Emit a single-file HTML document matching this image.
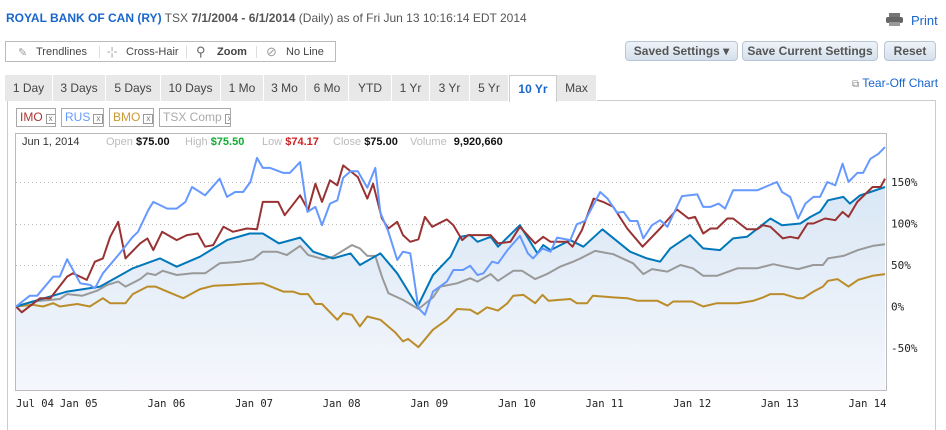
<!DOCTYPE html>
<html><head><meta charset="utf-8">
<style>
*{box-sizing:border-box;margin:0;padding:0}
body{width:946px;height:418px;background:#fff;font-family:"Liberation Sans",sans-serif;position:relative;overflow:hidden;color:#333}
.abs{position:absolute}
.title{left:6px;top:11px;font-size:12px;color:#555;white-space:nowrap}
.title b.co{color:#1a66cc}
.title b{color:#555}
.toolbar{left:5px;top:41px;width:331px;height:21px;border:1px solid #bbb;background:#fff;font-size:11px;color:#444}
.toolbar span{position:absolute;top:4px}
.tsep{position:absolute;top:4px;width:1px;height:12px;background:#ddd}
.btn{top:41px;height:20px;border:1px solid #b7c6d6;border-radius:4px;background:linear-gradient(#eef3f9,#d5e0ec);font-size:12px;font-weight:bold;color:#555;text-align:center;line-height:18px;white-space:nowrap}
.tabs{left:5px;top:75px;height:26px}
.tab{position:absolute;top:0;height:26px;background:#e8e8e8;border-right:1px solid #fff;font-size:12px;color:#444;text-align:center;line-height:26px}
.tab.act{background:#fff;border:1px solid #ccc;border-bottom:none;color:#1a66cc;font-weight:bold}
.panel{left:7px;top:100px;width:929px;height:330px;border-left:1px solid #ccc;border-right:1px solid #ccc;border-top:1px solid #ccc}
.chip{top:108px;height:19px;border:1px solid #aaa;font-size:12px;line-height:17px;padding-left:3px;white-space:nowrap;overflow:hidden}
.chip i{font-style:normal;display:inline-block;width:10px;height:10px;border:1px solid #999;font-size:8px;line-height:8px;text-align:center;color:#777;margin-left:3px;vertical-align:0px}
.info{top:136px;font-size:11px;white-space:nowrap}
.l{color:#bbb}
</style></head><body>
<div class="abs title"><b class="co">ROYAL BANK OF CAN (RY)</b> TSX <b>7/1/2004 - 6/1/2014</b> (Daily) as of Fri Jun 13 10:16:14 EDT 2014</div>
<div class="abs" style="left:886px;top:13px;width:17px;height:13px"><div style="position:absolute;left:3px;top:0;width:11px;height:4px;background:#777"></div><div style="position:absolute;left:0;top:4px;width:17px;height:6px;background:#666;border-radius:2px"></div><div style="position:absolute;left:3px;top:9px;width:11px;height:4px;background:#999"></div></div>
<div class="abs" style="left:911px;top:13px;font-size:13px;color:#1a66cc">Print</div>
<div class="abs toolbar">
<span style="left:12px;color:#999">✎</span><span style="left:30px">Trendlines</span>
<div class="tsep" style="left:93px"></div>
<span style="left:101px;color:#999">-¦-</span><span style="left:120px">Cross-Hair</span>
<div class="tsep" style="left:180px"></div>
<span style="left:190px;top:2px;font-size:13px;color:#666">⚲</span><span style="left:211px;font-weight:bold;color:#444">Zoom</span>
<div class="tsep" style="left:250px"></div>
<span style="left:260px;top:2px;font-size:13px;color:#999">⊘</span><span style="left:280px">No Line</span>
</div>
<div class="abs btn" style="left:625px;width:113px">Saved Settings ▾</div>
<div class="abs btn" style="left:742px;width:136px">Save Current Settings</div>
<div class="abs btn" style="left:884px;width:52px">Reset</div>
<div class="abs" style="left:852px;top:76px;font-size:12px;color:#1a66cc;white-space:nowrap"><span style="color:#888;font-size:10px">⧉</span> Tear-Off Chart</div>
<div class="abs panel"></div>
<div class="abs tabs">
<div class="tab" style="left:0;width:48px">1 Day</div>
<div class="tab" style="left:48px;width:53px">3 Days</div>
<div class="tab" style="left:101px;width:55px">5 Days</div>
<div class="tab" style="left:156px;width:60px">10 Days</div>
<div class="tab" style="left:216px;width:43px">1 Mo</div>
<div class="tab" style="left:259px;width:42px">3 Mo</div>
<div class="tab" style="left:301px;width:43px">6 Mo</div>
<div class="tab" style="left:344px;width:43px">YTD</div>
<div class="tab" style="left:387px;width:38px">1 Yr</div>
<div class="tab" style="left:425px;width:40px">3 Yr</div>
<div class="tab" style="left:465px;width:39px">5 Yr</div>
<div class="tab act" style="left:504px;width:48px;height:27px">10 Yr</div>
<div class="tab" style="left:552px;width:40px">Max</div>
</div>
<div class="abs chip" style="left:16px;width:40px;color:#a33">IMO<i>x</i></div>
<div class="abs chip" style="left:61px;width:43px;color:#69f">RUS<i>x</i></div>
<div class="abs chip" style="left:109px;width:45px;color:#c93">BMO<i>x</i></div>
<div class="abs chip" style="left:159px;width:72px;color:#aaa">TSX Comp<i>x</i></div>
<svg class="abs" style="left:0;top:0" width="946" height="418">
<defs><linearGradient id="g" x1="0" y1="0" x2="0" y2="1"><stop offset="0" stop-color="#d9e7f5"/><stop offset="1" stop-color="#f5f7fc"/></linearGradient></defs>
<g id="grid"></g><g id="area"></g><g id="lines"></g><g id="axes"></g>
<rect x="15.5" y="133.5" width="871" height="257" fill="none" stroke="#bbb"/>
</svg>
<div class="abs info" style="left:22px;color:#333">Jun 1, 2014</div>
<div class="abs info" style="left:106px"><span class="l">Open</span> <b style="color:#111">$75.00</b></div>
<div class="abs info" style="left:185px"><span class="l">High</span> <b style="color:#1a3">$75.50</b></div>
<div class="abs info" style="left:262px"><span class="l">Low</span> <b style="color:#c22">$74.17</b></div>
<div class="abs info" style="left:333px"><span class="l">Close</span> <b style="color:#111">$75.00</b></div>
<div class="abs info" style="left:410px"><span class="l">Volume</span> <b style="color:#111;margin-left:4px">9,920,660</b></div>
<script>
const yTicks=[150,100,50,0,-50];
const xTickLabels=["Jul 04","Jan 05","Jan 06","Jan 07","Jan 08","Jan 09","Jan 10","Jan 11","Jan 12","Jan 13","Jan 14"];
const xTickMonths=[0,6,18,30,42,54,66,78,90,102,114];
const ryMonths=[0,7,11.5,16,19.7,22,25.2,28.9,32,33.8,36,38.9,40.7,43.4,45.8,47.1,49.9,52.2,55,57.1,59.5,60.8,62.2,63.2,65,66,69,71.4,72.2,73.2,75.9,77.7,80.3,84.1,86.4,88.2,89.6,92.3,94.1,96.4,98.2,100.1,103.3,104.9,107.4,108.8,110.1,111.2,113.3,114.2,115.6,117,119];
const ryValues=[0,18,24,46,58,48,60,80,88,88,76,83,66,58,64,50,64,40,0,38,60,84,86,78,84,72,98,64,74,68,80,72,93,66,58,54,70,86,70,68,82,84,106,98,100,108,114,128,132,124,134,138,144];
const imoMonths=[0,0.8,3.3,4.7,7,7.8,9.7,10.8,11.9,12.9,14,15,17,18,18.8,20,22,23.4,24.9,25.9,27,28.4,29.7,31.6,33,33.8,35.9,36.8,38.9,40,41,41.9,43,44,44.8,46.8,48.1,48.9,50.1,51,52.2,53,54,55.1,56,57,59,59.9,61.1,61.9,65,66,67.7,69,71.1,72.2,73.2,75.5,76.2,77.5,79.1,80.4,81.8,83.7,85.8,88.2,90.5,92.1,93,94.1,95.1,96,97.4,98.2,100.1,101.5,102.3,103.3,105,106,107.1,108.4,109.2,110.8,112.2,113.2,114,115.2,117.3,118.4,119];
const imoValues=[0,-7,10,10,36,40,32,54,58,84,102,58,76,82,68,90,80,86,88,72,74,96,90,94,93,126,126,110,134,116,148,126,152,146,170,156,130,148,106,94,102,86,78,81,108,96,105,98,80,86,86,76,78,96,76,84,78,78,72,92,130,126,120,94,72,94,117,106,108,88,94,94,106,106,93,93,98,96,82,84,82,100,100,106,104,114,108,126,144,144,154];
const rusMonths=[0,1.9,2.9,5.1,6,7,8.8,10.1,10.8,11.9,14.2,16,16.7,18.1,18.8,20.7,22,23.2,24.1,25.9,27.9,28.9,30,31.1,32.1,33,33.8,34.8,36.6,37.5,38.9,39.9,41,41.9,43,44,44.8,45.8,46.8,48.1,49.2,49.9,51,52.2,53,54,55.1,56,57.1,59,59.9,61.2,62.2,63.2,64,65.2,66,67.3,69,70.1,70.8,72.1,73.2,74.1,75.9,76.8,77.9,80,81,82.3,83.2,84.1,85.1,85.9,87.1,88.2,89.2,91.2,93.3,94.1,95.1,96.2,97.1,98.2,99.6,101.5,104.2,104.9,106,107.1,108.1,109.2,110.1,111.1,112.2,113.2,114,115.2,116,117,118.1,119];
const rusValues=[0,13,13,36,36,57,28,26,22,40,64,84,90,116,126,118,118,126,144,134,154,132,138,138,150,179,167,167,161,161,174,114,120,98,124,128,155,163,163,143,167,113,90,56,66,64,-2,-10,18,30,44,44,49,38,40,54,52,68,85,64,58,70,66,83,80,99,103,138,130,113,114,103,103,82,98,104,96,133,135,120,120,124,118,140,140,140,150,138,132,106,124,132,132,150,146,172,150,161,161,178,184,192];
const tsxMonths=[0,2.3,6,7,9.1,11.1,12.5,14,15,17,18,19.1,20.1,22,24.2,25.9,27.9,30.7,32.5,33.8,35.7,37.1,38.9,40,42.1,43.4,46,47.1,48.1,49.2,50.1,51,53,55.1,57.1,58.1,60.4,62.2,63.2,65,66,68.1,69.3,71.1,72.7,74.5,76.3,77.3,79.3,81.8,84.5,85.9,87.1,89.2,91,92.7,94.1,96,98.8,101.5,103.7,105.3,107.1,109.2,110.5,111.2,113.3,115.3,117.3,119];
const tsxValues=[0,6,9,15,13,19,26,30,24,33,40,38,43,38,40,40,52,54,57,66,66,62,73,62,57,60,74,70,61,61,36,16,8,-3,11,24,28,34,30,39,31,43,43,33,39,48,54,58,67,63,52,39,45,42,50,46,37,37,46,46,51,48,45,50,50,58,61,68,73,75];
const bmoMonths=[0,2.3,3.7,5.1,6,8.4,10.1,11.9,12.9,15,16,18,19.1,20.7,22.9,25.2,27,29.7,31,33.8,36.6,37.9,38.9,40,41,41.9,44,44.8,46,47.1,48.1,49.9,51.9,53,53.7,55.1,57.1,59,60.4,62.2,63.2,64.5,66,67.3,68.1,69.5,71.1,72.1,72.9,75.9,76.8,78.2,79,81.8,83.7,85.1,87.8,89.2,90,92.6,94.1,96,98.8,101,102.3,103.3,105.1,107,107.8,109.2,110.5,111.2,112.5,114,115.3,117.3,119];
const bmoValues=[0,2,0,4,0,3,0,10,4,4,15,24,24,18,10,21,25,26,27,28,18,18,15,15,3,3,-16,-8,-10,-24,-12,-16,-31,-42,-39,-49,-28,-16,-3,-4,-9,-1,-5,4,13,14,4,14,7,9,4,4,13,11,10,7,7,1,6,6,0,4,4,7,11,15,15,10,10,18,24,31,33,24,32,37,39];

const X0=16,X1=885,MMAX=119,Y0=306.5,PPX=0.83,BOTTOM=390;
function xs(m){return X0+m*(X1-X0)/MMAX;}
function ys(p){return Y0-p*PPX;}
const NS="http://www.w3.org/2000/svg";
function mk(tag,parent){const e=document.createElementNS(NS,tag);document.getElementById(parent).appendChild(e);return e;}
function pts(ms,vs){const n=Math.min(ms.length,vs.length);let s=[];for(let i=0;i<n;i++)s.push(xs(ms[i]).toFixed(1)+","+ys(vs[i]).toFixed(1));return s;}
yTicks.forEach(t=>{
  const l=mk("line","grid");
  
  
  l.setAttribute("x1",16);l.setAttribute("x2",886);l.setAttribute("y1",Math.round(ys(t))+0.5);l.setAttribute("y2",Math.round(ys(t))+0.5);
  l.setAttribute("stroke","#bbb");l.setAttribute("stroke-dasharray","1,3");
  const tx=mk("text","axes");
  
  
  tx.setAttribute("x",891);tx.setAttribute("y",ys(t)+4);tx.setAttribute("font-size","11");tx.setAttribute("fill","#222");
  tx.setAttribute("font-family","DejaVu Sans Mono, monospace");
  tx.textContent=t+"%";
});
xTickLabels.forEach((lab,i)=>{
  const tx=mk("text","axes");
  
  
  const x=xs(xTickMonths[i]);
  tx.setAttribute("x",x);tx.setAttribute("y",407);tx.setAttribute("font-size","10.5");tx.setAttribute("fill","#222");
  tx.setAttribute("text-anchor","start");
  tx.setAttribute("font-family","DejaVu Sans Mono, monospace");
  tx.textContent=lab;
});
const ryP=pts(ryMonths,ryValues);
const area=mk("polygon","area");


area.setAttribute("points",ryP.join(" ")+" "+xs(ryMonths[ryMonths.length-1])+","+BOTTOM+" "+xs(ryMonths[0])+","+BOTTOM);
area.setAttribute("fill","url(#g)");
function line(ms,vs,color,name){
  const p=mk("polyline","lines");
  
  
  p.setAttribute("points",pts(ms,vs).join(" "));p.setAttribute("fill","none");p.setAttribute("stroke",color);p.setAttribute("stroke-width","2");p.setAttribute("stroke-linejoin","round");
}
line(bmoMonths,bmoValues,"#bb8d2a","bmo-line");
line(tsxMonths,tsxValues,"#999999","tsx-comp-line");
line(ryMonths,ryValues,"#0077bb","ry-line");
line(imoMonths,imoValues,"#993333","imo-line");
line(rusMonths,rusValues,"#6699ff","rus-line");
</script>
</body></html>
